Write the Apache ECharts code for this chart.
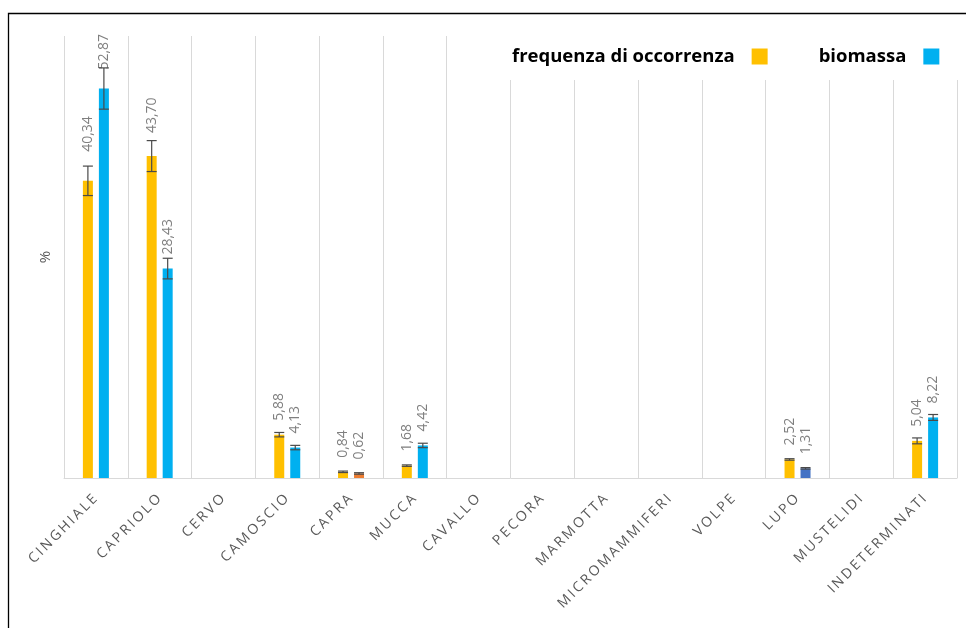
<!DOCTYPE html>
<html>
<head>
<meta charset="utf-8">
<script src="https://cdn.jsdelivr.net/npm/echarts@6/dist/echarts.min.js"></script>
<style>
html,body{margin:0;padding:0;background:#fff;}
#chart{width:966px;height:628px;}
</style>
</head>
<body>
<div id="chart"></div>
<script>
const categories = ['CINGHIALE','CAPRIOLO','CERVO','CAMOSCIO','CAPRA','MUCCA','CAVALLO','PECORA','MARMOTTA','MICROMAMMIFERI','VOLPE','LUPO','MUSTELIDI','INDETERMINATI'];
const freqValues = [40.34, 43.70, 0, 5.88, 0.84, 1.68, 0, 0, 0, 0, 0, 2.52, 0, 5.04];
const bioValues  = [52.87, 28.43, 0, 4.13, 0.62, 4.42, 0, 0, 0, 0, 0, 1.31, 0, 8.22];
const freqErrors = [2.0, 2.1, 0, 0.3, 0.1, 0.1, 0, 0, 0, 0, 0, 0.1, 0, 0.4];
const bioErrors  = [2.8, 1.4, 0, 0.3, 0.1, 0.3, 0, 0, 0, 0, 0, 0.1, 0, 0.4];
const seriesNames = ['frequenza di occorrenza', 'biomassa'];

const ORANGE = '#FFC000', BLUE = '#00B0F0';
const bioPointColors = { 'CAPRA': '#ED7D31', 'LUPO': '#4472C4' };
// label offsets (style) for a few points placed further from the bar
const freqLabelDist = { 'CINGHIALE': 29, 'CAPRIOLO': 23 };
const bioLabelDist = { 'CINGHIALE': 19 };

const chart = echarts.init(document.getElementById('chart'));

function fmt(v){ return v ? v.toFixed(2).replace('.', ',') : ''; }

const barLabel = {
  show: true, position: 'top', rotate: 90, distance: 14,
  align: 'left', verticalAlign: 'middle',
  color: '#7f7f7f', fontSize: 14, fontFamily: 'Open Sans',
  formatter: p => fmt(p.value)
};

function spaced(text){
  return text.split('').map(ch => '{s|' + ch + '}').join('');
}

function buildData(values, colorMap, distMap){
  return values.map((v, i) => {
    const c = categories[i];
    const item = { value: v };
    if (colorMap[c]) item.itemStyle = { color: colorMap[c] };
    if (distMap[c]) item.label = { distance: distMap[c] };
    return item;
  });
}

function errorSeries(values, errs, offset){
  return {
    type: 'custom', z: 5, silent: true,
    data: values.map((v, i) => [i, v, errs[i]]),
    renderItem: function(params, api){
      const i = api.value(0), v = api.value(1), e = api.value(2);
      if (!v) return null;
      const cx = api.coord([i, v])[0] + offset;
      const yt = api.coord([i, v + e])[1];
      const yb = api.coord([i, v - e])[1];
      const st = { stroke: '#4a4a4a', lineWidth: 1.2 };
      return { type: 'group', children: [
        { type: 'line', shape: { x1: cx, y1: yt, x2: cx, y2: yb }, style: st },
        { type: 'line', shape: { x1: cx - 5, y1: yt, x2: cx + 5, y2: yt }, style: st },
        { type: 'line', shape: { x1: cx - 5, y1: yb, x2: cx + 5, y2: yb }, style: st }
      ]};
    }
  };
}

const option = {
  animation: false,
  backgroundColor: '#fff',
  grid: { left: 64, right: 9, top: 36, bottom: 150 },
  legend: {
    data: seriesNames,
    left: 500, top: 36,
    padding: [11, 20, 14, 12],
    backgroundColor: '#fff',
    align: 'right',
    itemWidth: 16, itemHeight: 16, itemGap: 51,
    icon: 'rect',
    textStyle: { color: '#000', fontSize: 18.5, fontWeight: 'bold', fontFamily: 'Open Sans', padding: [0, 12, 0, 0] },
    z: 10
  },
  xAxis: {
    type: 'category', data: categories,
    axisLine: { lineStyle: { color: '#d9d9d9' } },
    axisTick: { show: false },
    splitLine: { show: true, lineStyle: { color: '#d9d9d9' } },
    axisLabel: {
      interval: 0, rotate: 45, margin: 18, color: '#595959',
      formatter: v => spaced(v),
      rich: { s: { fontSize: 14, fontFamily: 'Open Sans', color: '#595959', padding: [0, 1.2, 0, 1.2] } }
    }
  },
  yAxis: {
    type: 'value', min: 0, max: 60, interval: 10,
    name: '%', nameLocation: 'middle', nameGap: 11, nameRotate: 90,
    nameTextStyle: { color: '#595959', fontSize: 15, fontFamily: 'Open Sans' },
    axisLine: { show: false }, axisTick: { show: false }, axisLabel: { show: false },
    splitLine: { show: false }
  },
  graphic: [{
    type: 'rect', silent: true, z: 100,
    shape: { x: 8.5, y: 13.5, width: 1000, height: 1000 },
    style: { fill: 'none', stroke: '#000', lineWidth: 1.3 }
  }],
  series: [
    {
      name: seriesNames[0], type: 'bar', barWidth: 10, barGap: '60%',
      itemStyle: { color: ORANGE },
      label: barLabel,
      data: buildData(freqValues, {}, freqLabelDist)
    },
    {
      name: seriesNames[1], type: 'bar', barWidth: 10,
      itemStyle: { color: BLUE },
      label: barLabel,
      data: buildData(bioValues, bioPointColors, bioLabelDist)
    },
    errorSeries(freqValues, freqErrors, -8),
    errorSeries(bioValues, bioErrors, 8)
  ]
};
chart.setOption(option);
</script>
</body>
</html>
